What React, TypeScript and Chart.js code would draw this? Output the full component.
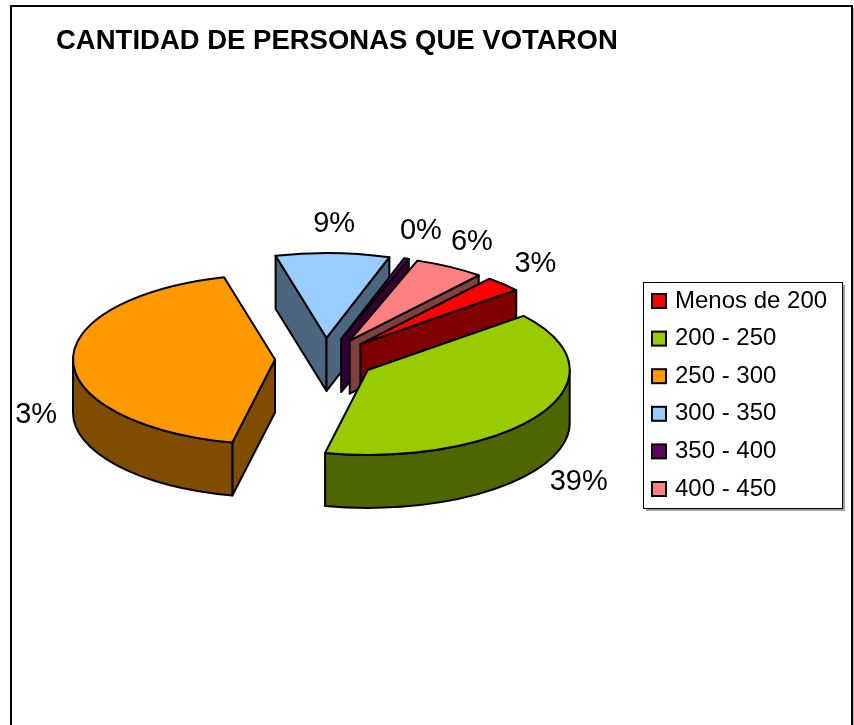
import React, { useEffect, useRef } from 'react';
import { Chart, registerables } from 'chart.js';

Chart.register(...registerables);

// ---- data ----
const TITLE = 'CANTIDAD DE PERSONAS QUE VOTARON';
const CATEGORIES = ['Menos de 200', '200 - 250', '250 - 300', '300 - 350', '350 - 400', '400 - 450'];
const SHARES = [3.0, 39.4, 42.6, 9.1, 0.4, 5.6];
const COLORS = ['#FF0000', '#99CC00', '#FF9900', '#99CCFF', '#660066', '#FF8080'];

// ---- look ----
const FONT = "'Liberation Sans', Arial, Helvetica, sans-serif";
const W = 854;
const H = 725;
const TILT = 0.4208; // vertical squash of the pie
const DEPTH = 53; // thickness of the pie
const EXPLODE = 50; // slice explosion
const RADIUS = 202;
const ROTATION = 39.7;
const LABEL_GAP_X = 45;
const LABEL_GAP_Y = 29;
const LABEL_FONT = 29;
const FRAME = { left: 11, top: 6, right: 852 };
const LABEL_CLIP_LEFT = 15;
const LEGEND_BOX = { left: 643, top: 282, right: 842, bottom: 508 };
const LEGEND_ROW = { first: 301, step: 37.6, markerX: 652, marker: 14, textX: 675, font: 24 };

function shade(hex: string, f: number) {
  const n = parseInt(hex.slice(1), 16);
  const r = Math.round(((n >> 16) & 255) * f);
  const g = Math.round(((n >> 8) & 255) * f);
  const b = Math.round((n & 255) * f);
  return `rgb(${r},${g},${b})`;
}

const pie3d = {
  id: 'pie3d',
  beforeDraw(chart: any) {
    const ctx = chart.ctx;
    ctx.save();
    ctx.fillStyle = '#ffffff';
    ctx.fillRect(0, 0, chart.width, chart.height);
    ctx.strokeStyle = '#000000';
    ctx.lineWidth = 2;
    ctx.beginPath();
    ctx.moveTo(FRAME.left, chart.height + 10);
    ctx.lineTo(FRAME.left, FRAME.top);
    ctx.lineTo(FRAME.right, FRAME.top);
    ctx.lineTo(FRAME.right, chart.height + 10);
    ctx.stroke();
    ctx.strokeStyle = '#b0b0b0';
    ctx.lineWidth = 1;
    ctx.beginPath();
    ctx.moveTo(FRAME.right + 1.5, FRAME.top + 2);
    ctx.lineTo(FRAME.right + 1.5, chart.height + 10);
    ctx.stroke();
    ctx.restore();
  },
  beforeDatasetsDraw(chart: any) {
    const ctx = chart.ctx;
    const meta = chart.getDatasetMeta(0);
    const k = TILT;
    const D = DEPTH;
    const slices = meta.data.map((arc: any, i: number) => {
      const p = arc.getProps(['x', 'y', 'startAngle', 'endAngle', 'outerRadius'], true);
      const off = arc.options.offset || 0;
      const mid = (p.startAngle + p.endAngle) / 2;
      return {
        i,
        a0: p.startAngle,
        a1: p.endAngle,
        r: p.outerRadius,
        mid,
        cx: p.x + off * Math.cos(mid),
        cy: p.y + off * k * Math.sin(mid),
        top: arc.options.backgroundColor,
        side: shade(COLORS[i], 0.5),
        lw: arc.options.borderWidth,
        stroke: arc.options.borderColor,
      };
    });
    slices.sort((a: any, b: any) => Math.sin(a.mid) - Math.sin(b.mid));
    ctx.save();
    ctx.lineJoin = 'round';
    for (const s of slices) {
      if (s.a1 - s.a0 <= 0) continue;
      ctx.lineWidth = s.lw;
      ctx.strokeStyle = s.stroke;
      const P = (a: number) => [s.cx + s.r * Math.cos(a), s.cy + k * s.r * Math.sin(a)];
      // radial cut faces facing the viewer
      const faces: number[] = [];
      if (Math.cos(s.a0) < 0) faces.push(s.a0);
      if (Math.cos(s.a1) > 0) faces.push(s.a1);
      for (const a of faces) {
        const [px, py] = P(a);
        ctx.beginPath();
        ctx.moveTo(s.cx, s.cy);
        ctx.lineTo(px, py);
        ctx.lineTo(px, py + D);
        ctx.lineTo(s.cx, s.cy + D);
        ctx.closePath();
        ctx.fillStyle = s.side;
        ctx.fill();
        ctx.stroke();
      }
      // outer curved side (front half only)
      for (let n = -1; n <= 1; n++) {
        const lo = Math.max(s.a0, 2 * Math.PI * n);
        const hi = Math.min(s.a1, Math.PI + 2 * Math.PI * n);
        if (hi <= lo) continue;
        ctx.beginPath();
        ctx.ellipse(s.cx, s.cy, s.r, k * s.r, 0, lo, hi, false);
        ctx.ellipse(s.cx, s.cy + D, s.r, k * s.r, 0, hi, lo, true);
        ctx.closePath();
        ctx.fillStyle = s.side;
        ctx.fill();
        ctx.stroke();
      }
      // top face
      ctx.beginPath();
      ctx.moveTo(s.cx, s.cy);
      ctx.ellipse(s.cx, s.cy, s.r, k * s.r, 0, s.a0, s.a1, false);
      ctx.closePath();
      ctx.fillStyle = s.top;
      ctx.fill();
      ctx.stroke();
    }
    ctx.restore();
    return false;
  },
  afterDraw(chart: any) {
    const ctx = chart.ctx;
    const meta = chart.getDatasetMeta(0);
    const values: number[] = chart.data.datasets[0].data;
    const total = values.reduce((a, b) => a + b, 0);
    // percentage labels
    ctx.save();
    ctx.beginPath();
    ctx.rect(LABEL_CLIP_LEFT, FRAME.top + 1, FRAME.right - LABEL_CLIP_LEFT - 1, chart.height);
    ctx.clip();
    ctx.font = `${LABEL_FONT}px ${FONT}`;
    ctx.fillStyle = '#000000';
    ctx.textAlign = 'center';
    ctx.textBaseline = 'middle';
    meta.data.forEach((arc: any, i: number) => {
      const p = arc.getProps(['x', 'y', 'startAngle', 'endAngle', 'outerRadius'], true);
      const off = arc.options.offset || 0;
      const mid = (p.startAngle + p.endAngle) / 2;
      const rx = p.outerRadius + off + LABEL_GAP_X;
      const ry = TILT * (p.outerRadius + off) + LABEL_GAP_Y;
      const x = p.x + rx * Math.cos(mid);
      const y = p.y + ry * Math.sin(mid) + (Math.sin(mid) > -0.2 ? DEPTH : 0);
      ctx.fillText(Math.round((values[i] / total) * 100) + '%', x, y);
    });
    ctx.restore();

    // legend
    ctx.save();
    const bw = LEGEND_BOX.right - LEGEND_BOX.left;
    const bh = LEGEND_BOX.bottom - LEGEND_BOX.top;
    ctx.fillStyle = '#a0a0a0';
    ctx.fillRect(LEGEND_BOX.left + 3, LEGEND_BOX.top + 3, bw, bh);
    ctx.fillStyle = '#ffffff';
    ctx.fillRect(LEGEND_BOX.left, LEGEND_BOX.top, bw, bh);
    ctx.strokeStyle = '#000000';
    ctx.lineWidth = 1;
    ctx.strokeRect(LEGEND_BOX.left + 0.5, LEGEND_BOX.top + 0.5, bw, bh);
    ctx.font = `${LEGEND_ROW.font}px ${FONT}`;
    ctx.textAlign = 'left';
    ctx.textBaseline = 'middle';
    const colors = chart.data.datasets[0].backgroundColor;
    chart.data.labels.forEach((label: string, i: number) => {
      const cy = LEGEND_ROW.first + i * LEGEND_ROW.step;
      const m = LEGEND_ROW.marker;
      ctx.fillStyle = colors[i];
      ctx.fillRect(LEGEND_ROW.markerX, cy - m / 2, m, m);
      ctx.lineWidth = 2;
      ctx.strokeStyle = '#000000';
      ctx.strokeRect(LEGEND_ROW.markerX, cy - m / 2, m, m);
      ctx.fillStyle = '#000000';
      ctx.fillText(label, LEGEND_ROW.textX, cy);
    });
    ctx.restore();
  },
};

export default function App() {
  const ref = useRef<HTMLCanvasElement>(null);
  useEffect(() => {
    if (!ref.current) return;
    Chart.defaults.font.family = FONT;
    Chart.defaults.color = '#000000';
    const chart = new Chart(ref.current, {
      type: 'pie',
      data: {
        labels: CATEGORIES,
        datasets: [
          {
            data: SHARES,
            backgroundColor: COLORS,
            borderColor: '#000000',
            borderWidth: 2,
            offset: EXPLODE,
          },
        ],
      },
      options: {
        responsive: false,
        animation: false,
        devicePixelRatio: 1,
        events: [],
        radius: RADIUS,
        rotation: ROTATION,
        layout: { padding: { left: 56, right: 0, top: 0, bottom: 75 } },
        scales: {
          legendSlot: {
            type: 'linear',
            position: 'right',
            display: true,
            min: 0,
            max: 1,
            grid: { display: false },
            border: { display: false },
            ticks: { display: false },
            afterFit: (s: any) => {
              s.width = 260;
            },
          },
        },
        plugins: {
          legend: { display: false },
          tooltip: { enabled: false },
          title: {
            display: true,
            text: TITLE,
            align: 'start',
            color: '#000000',
            font: { family: FONT, size: 27.5, weight: 'bold', lineHeight: 1.2 },
            padding: { top: 25, bottom: 10 },
          },
        },
      } as any,
      plugins: [pie3d],
    });
    return () => chart.destroy();
  }, []);
  return (
    <div style={{ position: 'absolute', left: 0, top: 0, width: W, height: H }}>
      <canvas ref={ref} width={W} height={H} style={{ display: 'block' }} />
    </div>
  );
}
